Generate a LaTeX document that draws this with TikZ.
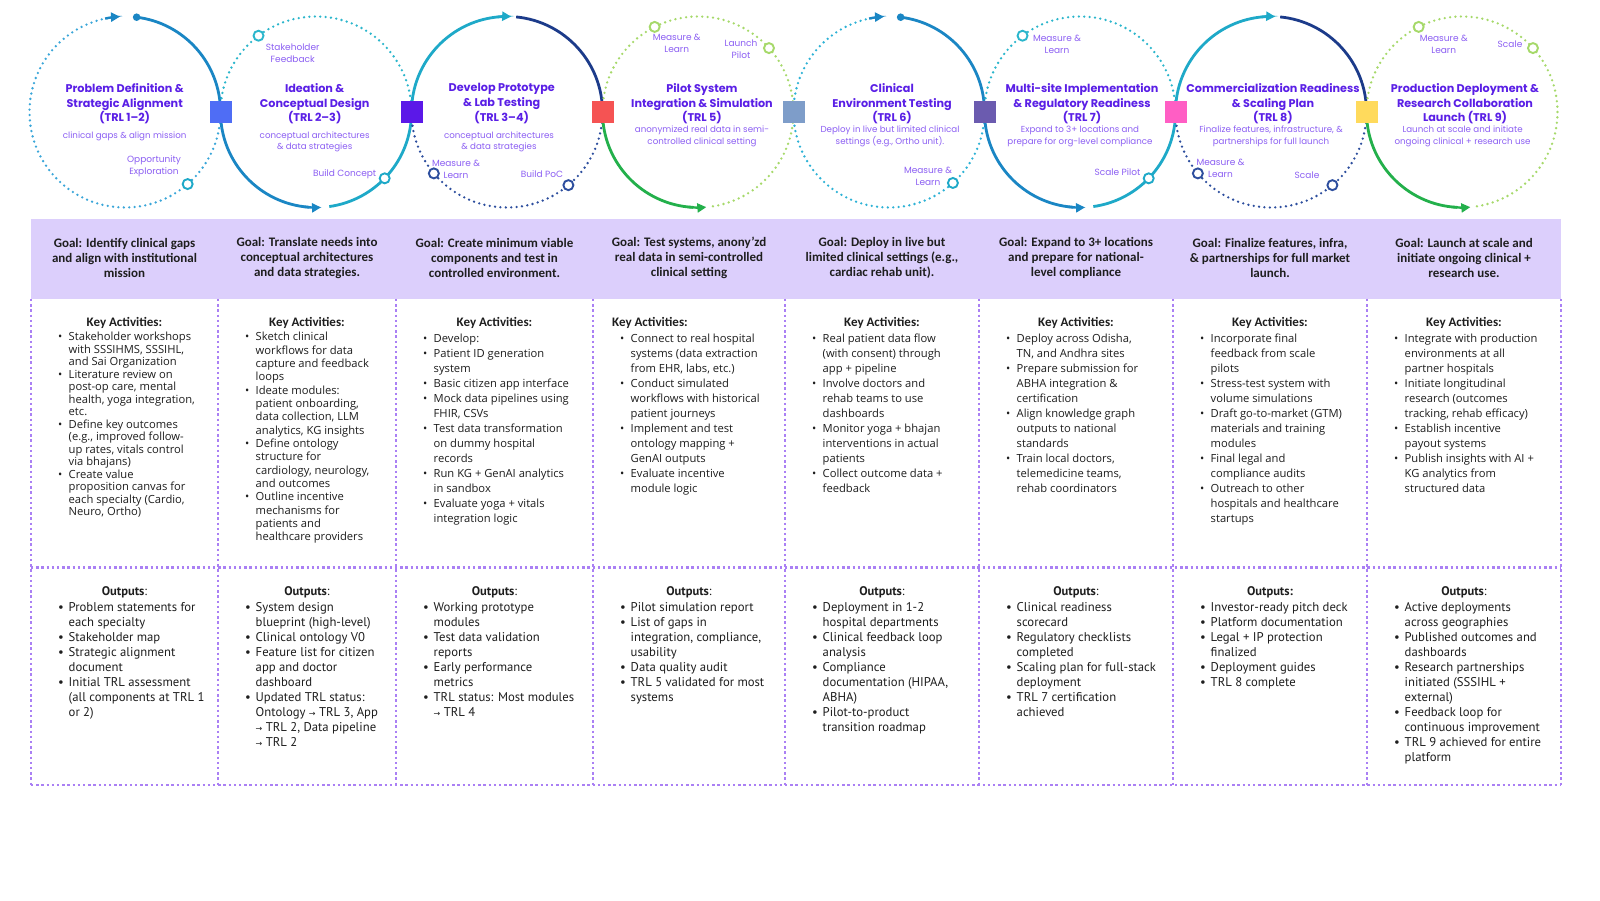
\documentclass[tikz,border=0pt]{standalone}
\usepackage{fontspec}
\setmainfont{Open Sans}
\newfontfamily\pop{Poppins}
\newfontfamily\carl{Carlito}
\newfontfamily\ptsans{PT Sans}
\newfontfamily\dejavu{DejaVu Sans}
\usetikzlibrary{arrows.meta}

\definecolor{blueS}{HTML}{1A86C4}
\definecolor{blueD}{HTML}{3AA6D9}
\definecolor{cyanD}{HTML}{2DB2D6}
\definecolor{tealS}{HTML}{1EA9C8}
\definecolor{tealD}{HTML}{2BB6CC}
\definecolor{navyS}{HTML}{1C3B8A}
\definecolor{navyD}{HTML}{2D4E9E}
\definecolor{greenS}{HTML}{23B04B}
\definecolor{greenD}{HTML}{A6D96A}
\definecolor{sqA}{HTML}{4F6DF5}
\definecolor{sqB}{HTML}{5B18E8}
\definecolor{sqC}{HTML}{F55353}
\definecolor{sqD}{HTML}{7E9DC9}
\definecolor{sqE}{HTML}{6B5BAF}
\definecolor{sqF}{HTML}{FF5EC4}
\definecolor{sqG}{HTML}{FFDA5C}
\definecolor{ttlC}{HTML}{5A1FE6}
\definecolor{subC}{HTML}{8C5FF3}
\definecolor{txtC}{HTML}{1E1E1E}
\definecolor{hdrC}{HTML}{DCCFFC}
\definecolor{gridC}{HTML}{AA80F4}

\newcommand{\Rad}{95.5}
\newcommand{\Cy}{788}
\newcommand{\bu}{\makebox[10.5pt][l]{\textbullet}}
\newcommand{\ct}{\hspace*{10.5pt}}
\newcommand{\st}{\rule{0pt}{12pt}}
\newcommand{\ar}{{\dejavu\fontsize{8}{8}\selectfont →}}

\newcommand{\circA}[4]{%
 \draw[dotarc,#3] ([shift={(0:\Rad)}]#1,\Cy) arc[start angle=0,end angle=-261,radius=\Rad];
 \draw[arrowarc,blueS] ([shift={(-258:\Rad)}]#1,\Cy) arc[start angle=-258,end angle=-267,radius=\Rad];
 \draw[solidarc,blueS] ([shift={(0:\Rad)}]#1,\Cy) arc[start angle=0,end angle=83,radius=\Rad];
 \fill[blueS] ([shift={(83:\Rad)}]#1,\Cy) circle[radius=3.8];
 \draw[ringmark,draw=#4] ([shift={(#2:\Rad)}]#1,\Cy) circle[radius=5];
}
\newcommand{\circB}[1]{%
 \draw[dotarc,tealD] ([shift={(0:\Rad)}]#1,\Cy) arc[start angle=0,end angle=180,radius=\Rad];
 \draw[solidarc,blueS] ([shift={(180:\Rad)}]#1,\Cy) arc[start angle=180,end angle=266,radius=\Rad];
 \draw[arrowarc,blueS] ([shift={(263:\Rad)}]#1,\Cy) arc[start angle=263,end angle=273,radius=\Rad];
 \draw[solidarc,tealS] ([shift={(278:\Rad)}]#1,\Cy) arc[start angle=278,end angle=360,radius=\Rad];
 \draw[ringmark,draw=tealD] ([shift={(127:\Rad)}]#1,\Cy) circle[radius=5];
 \draw[ringmark,draw=tealS] ([shift={(-44:\Rad)}]#1,\Cy) circle[radius=5];
}
\newcommand{\circC}[1]{%
 \draw[dotarc,navyD] ([shift={(0:\Rad)}]#1,\Cy) arc[start angle=0,end angle=-180,radius=\Rad];
 \draw[solidarc,tealS] ([shift={(180:\Rad)}]#1,\Cy) arc[start angle=180,end angle=93,radius=\Rad];
 \draw[arrowarc,tealS] ([shift={(96:\Rad)}]#1,\Cy) arc[start angle=96,end angle=87.5,radius=\Rad];
 \draw[solidarc,navyS] ([shift={(84.5:\Rad)}]#1,\Cy) arc[start angle=84.5,end angle=0,radius=\Rad];
 \draw[ringmark,draw=navyD] ([shift={(-50:\Rad)}]#1,\Cy) circle[radius=5];
 \draw[ringmark,draw=navyD] ([shift={(-140:\Rad)}]#1,\Cy) circle[radius=5];
}
\newcommand{\circD}[1]{%
 \draw[dotarc,greenD] ([shift={(279:\Rad)}]#1,\Cy) arc[start angle=279,end angle=540,radius=\Rad];
 \draw[solidarc,greenS] ([shift={(180:\Rad)}]#1,\Cy) arc[start angle=180,end angle=267,radius=\Rad];
 \draw[arrowarc,greenS] ([shift={(264:\Rad)}]#1,\Cy) arc[start angle=264,end angle=275,radius=\Rad];
 \draw[ringmark,draw=greenD] ([shift={(42:\Rad)}]#1,\Cy) circle[radius=5];
 \draw[ringmark,draw=greenD] ([shift={(117:\Rad)}]#1,\Cy) circle[radius=5];
}

\begin{document}
\begin{tikzpicture}[x=1pt,y=1pt,
 solidarc/.style={line width=2.8pt},
 dotarc/.style={line width=2.6pt,line cap=round,dash pattern=on 0pt off 5.4pt},
 ringmark/.style={line width=1.9pt,fill=white},
 arrowarc/.style={line width=2.4pt,-{Triangle[length=9pt,width=9pt]}},
 sqbox/.style={minimum size=22pt,inner sep=0pt},
 ttl/.style={font=\pop\bfseries\fontsize{11.2}{14.8}\selectfont,text=ttlC,align=center,inner sep=0pt},
 subtxt/.style={font=\pop\fontsize{8.7}{11.4}\selectfont,text=subC,align=center,inner sep=0pt},
 lbl/.style={font=\pop\fontsize{9}{12}\selectfont,text=subC,align=center,inner sep=0pt},
 goaltxt/.style={font=\carl\bfseries\fontsize{13}{15}\selectfont,text=txtC,align=center,inner sep=0pt},
 hdrtxt/.style={font=\carl\bfseries\fontsize{13}{15}\selectfont,text=txtC,inner sep=0pt},
 outhdr/.style={font=\ptsans\fontsize{12.5}{15}\selectfont,text=txtC,inner sep=0pt},
 acttxt/.style={font=\fontsize{11.2}{15}\selectfont,text=txtC,align=left,inner sep=0pt,anchor=north west},
 outtxt/.style={font=\ptsans\fontsize{12.7}{15}\selectfont,text=txtC,align=left,inner sep=0pt,anchor=north west},
 griddot/.style={line width=2.4pt,dash pattern=on 2.4pt off 2.8pt,draw=gridC},
]
\useasboundingbox (0,0) rectangle (1600,900);
\fill[white] (0,0) rectangle (1600,900);

% ---------- circles ----------
\circA{125}{-49}{blueD}{tealS}
\circB{316}
\circC{507}
\circD{698}
\circA{889}{-48}{cyanD}{tealS}
\circB{1080}
\circC{1271}
\circD{1462}

\node[sqbox,fill=sqA] (s1) at (220.5,\Cy) {};
\node[sqbox,fill=sqB] (s2) at (411.5,\Cy) {};
\node[sqbox,fill=sqC] (s3) at (602.5,\Cy) {};
\node[sqbox,fill=sqD] (s4) at (793.5,\Cy) {};
\node[sqbox,fill=sqE] (s5) at (984.5,\Cy) {};
\node[sqbox,fill=sqF] (s6) at (1175.5,\Cy) {};
\node[sqbox,fill=sqG] (s7) at (1366.5,\Cy) {};

% ---------- circle texts ----------
\node[ttl] (t1) at (124.7,796.3) {Problem Definition \&\\Strategic Alignment\\(TRL 1–2)};
\node[subtxt] (d1) at (124.7,764) {clinical gaps \& align mission};
\node[lbl] (l1) at (154,733.5) {Opportunity\\Exploration};

\node[ttl] (t2) at (314.7,796.3) {Ideation \&\\Conceptual Design\\(TRL 2–3)};
\node[subtxt] (d2) at (314.7,758.3) {conceptual architectures\\\& data strategies};
\node[lbl] (l2a) at (292.7,846.5) {Stakeholder\\Feedback};
\node[lbl] (l2b) at (344.7,726) {Build Concept};

\node[ttl] (t3) at (501.7,796.3) {Develop Prototype\\\& Lab Testing\\(TRL 3–4)};
\node[subtxt] (d3) at (499,758.3) {conceptual architectures\\\& data strategies};
\node[lbl] (l3a) at (456,731) {Measure \&\\Learn};
\node[lbl] (l3b) at (542,726) {Build PoC};

\node[ttl] (t4) at (702,796.3) {Pilot System\\Integration \& Simulation\\(TRL 5)};
\node[subtxt] (d4) at (702,763.8) {anonymized real data in semi-\\controlled clinical setting};
\node[lbl] (l4a) at (676.7,857) {Measure \&\\Learn};
\node[lbl] (l4b) at (741,851) {Launch\\Pilot};

\node[ttl] (t5) at (892,796.3) {Clinical\\Environment Testing\\(TRL 6)};
\node[subtxt] (d5) at (890,763.8) {Deploy in live but limited clinical\\settings (e.g., Ortho unit).};
\node[lbl] (l5a) at (928,724) {Measure \&\\Learn};

\node[ttl] (t6) at (1082,796.3) {Multi-site Implementation\\\& Regulatory Readiness\\(TRL 7)};
\node[subtxt] (d6) at (1080,763.8) {Expand to 3+ locations and\\prepare for org-level compliance};
\node[lbl] (l6a) at (1057,855.5) {Measure \&\\Learn};
\node[lbl] (l6b) at (1117.5,728) {Scale Pilot};

\node[ttl] (t7) at (1273,796.3) {Commercialization Readiness\\\& Scaling Plan\\(TRL 8)};
\node[subtxt] (d7) at (1271,763.8) {Finalize features, infrastructure, \&\\partnerships for full launch};
\node[lbl] (l7a) at (1220.5,732) {Measure \&\\Learn};
\node[lbl] (l7b) at (1307,725) {Scale};

\node[ttl] (t8) at (1465,796.3) {Production Deployment \&\\Research Collaboration\\Launch (TRL 9)};
\node[subtxt] (d8) at (1462.6,763.8) {Launch at scale and initiate\\ongoing clinical + research use};
\node[lbl] (l8a) at (1443.7,856) {Measure \&\\Learn};
\node[lbl] (l8b) at (1510,856) {Scale};

% ---------- table ----------
\fill[hdrC] (31,681) rectangle (1561,601);
\foreach \xx in {31,218,396,593,785,979,1173,1367,1561}
  \draw[griddot] (\xx,601) -- (\xx,115);
\draw[griddot] (31,332.3) -- (1561,332.3);
\draw[griddot] (31,115) -- (1561,115);

% goals
\node[goaltxt] (g1) at (124.5,642.3) {Goal: Identify clinical gaps\\and align with institutional\\mission};
\node[goaltxt] (g2) at (307,642.3) {Goal: Translate needs into\\conceptual architectures\\and data strategies.};
\node[goaltxt] (g3) at (494.5,642.3) {Goal: Create minimum viable\\components and test in\\controlled environment.};
\node[goaltxt] (g4) at (689,642.3) {Goal: Test systems, anony’zd\\real data in semi-controlled\\clinical setting};
\node[goaltxt] (g5) at (882,642.3) {Goal: Deploy in live but\\limited clinical settings (e.g.,\\cardiac rehab unit).};
\node[goaltxt] (g6) at (1076,642.3) {Goal: Expand to 3+ locations\\and prepare for national-\\level compliance};
\node[goaltxt] (g7) at (1270,642.3) {Goal: Finalize features, infra,\\\& partnerships for full market\\launch.};
\node[goaltxt] (g8) at (1464,642.3) {Goal: Launch at scale and\\initiate ongoing clinical +\\research use.};

% key activity headers
\node[hdrtxt] (h1) at (124.5,576.7) {Key Activities:};
\node[hdrtxt] (h2) at (307,576.7) {Key Activities:};
\node[hdrtxt] (h3) at (494.5,576.7) {Key Activities:};
\node[hdrtxt,anchor=west] (h4) at (612,576.7) {Key Activities:};
\node[hdrtxt] (h5) at (882,576.7) {Key Activities:};
\node[hdrtxt] (h6) at (1076,576.7) {Key Activities:};
\node[hdrtxt] (h7) at (1270,576.7) {Key Activities:};
\node[hdrtxt] (h8) at (1464,576.7) {Key Activities:};

% key activities
\node[acttxt,font=\fontsize{11.2}{12.5}\selectfont] (a1) at (58,571.4) {\st\bu Stakeholder workshops\\
\ct with SSSIHMS, SSSIHL,\\
\ct and Sai Organization\\
\bu Literature review on\\
\ct post-op care, mental\\
\ct health, yoga integration,\\
\ct etc.\\
\bu Define key outcomes\\
\ct (e.g., improved follow-\\
\ct up rates, vitals control\\
\ct via bhajans)\\
\bu Create value\\
\ct proposition canvas for\\
\ct each specialty (Cardio,\\
\ct Neuro, Ortho)};

\node[acttxt,font=\fontsize{11.2}{13.33}\selectfont] (a2) at (245,571.4) {\st\bu Sketch clinical\\
\ct workflows for data\\
\ct capture and feedback\\
\ct loops\\
\bu Ideate modules:\\
\ct patient onboarding,\\
\ct data collection, LLM\\
\ct analytics, KG insights\\
\bu Define ontology\\
\ct structure for\\
\ct cardiology, neurology,\\
\ct and outcomes\\
\bu Outline incentive\\
\ct mechanisms for\\
\ct patients and\\
\ct healthcare providers};

\node[acttxt] (a3) at (423,569.7) {\st\bu Develop:\\
\bu Patient ID generation\\
\ct system\\
\bu Basic citizen app interface\\
\bu Mock data pipelines using\\
\ct FHIR, CSVs\\
\bu Test data transformation\\
\ct on dummy hospital\\
\ct records\\
\bu Run KG + GenAI analytics\\
\ct in sandbox\\
\bu Evaluate yoga + vitals\\
\ct integration logic};

\node[acttxt] (a4) at (620,570.1) {\st\bu Connect to real hospital\\
\ct systems (data extraction\\
\ct from EHR, labs, etc.)\\
\bu Conduct simulated\\
\ct workflows with historical\\
\ct patient journeys\\
\bu Implement and test\\
\ct ontology mapping +\\
\ct GenAI outputs\\
\bu Evaluate incentive\\
\ct module logic};

\node[acttxt] (a5) at (812,570.1) {\st\bu Real patient data flow\\
\ct (with consent) through\\
\ct app + pipeline\\
\bu Involve doctors and\\
\ct rehab teams to use\\
\ct dashboards\\
\bu Monitor yoga + bhajan\\
\ct interventions in actual\\
\ct patients\\
\bu Collect outcome data +\\
\ct feedback};

\node[acttxt] (a6) at (1006,570.1) {\st\bu Deploy across Odisha,\\
\ct TN, and Andhra sites\\
\bu Prepare submission for\\
\ct ABHA integration \&\\
\ct certification\\
\bu Align knowledge graph\\
\ct outputs to national\\
\ct standards\\
\bu Train local doctors,\\
\ct telemedicine teams,\\
\ct rehab coordinators};

\node[acttxt] (a7) at (1200,570.1) {\st\bu Incorporate final\\
\ct feedback from scale\\
\ct pilots\\
\bu Stress-test system with\\
\ct volume simulations\\
\bu Draft go-to-market (GTM)\\
\ct materials and training\\
\ct modules\\
\bu Final legal and\\
\ct compliance audits\\
\bu Outreach to other\\
\ct hospitals and healthcare\\
\ct startups};

\node[acttxt] (a8) at (1394,570.1) {\st\bu Integrate with production\\
\ct environments at all\\
\ct partner hospitals\\
\bu Initiate longitudinal\\
\ct research (outcomes\\
\ct tracking, rehab efficacy)\\
\bu Establish incentive\\
\ct payout systems\\
\bu Publish insights with AI +\\
\ct KG analytics from\\
\ct structured data};

% outputs headers
\node[outhdr] (p1) at (124.5,307.3) {\textbf{Outputs}:};
\node[outhdr] (p2) at (307,307.3) {\textbf{Outputs}:};
\node[outhdr] (p3) at (494.5,307.3) {\textbf{Outputs}:};
\node[outhdr] (p4) at (689,307.3) {\textbf{Outputs}:};
\node[outhdr] (p5) at (882,307.3) {\textbf{Outputs}:};
\node[outhdr] (p6) at (1076,307.3) {\textbf{Outputs}:};
\node[outhdr] (p7) at (1270,307.3) {\textbf{Outputs:}};
\node[outhdr] (p8) at (1464,307.3) {\textbf{Outputs}:};

% outputs
\node[outtxt] (o1) at (58,300.3) {\st\bu Problem statements for\\
\ct each specialty\\
\bu Stakeholder map\\
\bu Strategic alignment\\
\ct document\\
\bu Initial TRL assessment\\
\ct (all components at TRL 1\\
\ct or 2)};

\node[outtxt] (o2) at (245,300.3) {\st\bu System design\\
\ct blueprint (high-level)\\
\bu Clinical ontology V0\\
\bu Feature list for citizen\\
\ct app and doctor\\
\ct dashboard\\
\bu Updated TRL status:\\
\ct Ontology \ar{} TRL 3, App\\
\ct \ar{} TRL 2, Data pipeline\\
\ct \ar{} TRL 2};

\node[outtxt] (o3) at (423,300.3) {\st\bu Working prototype\\
\ct modules\\
\bu Test data validation\\
\ct reports\\
\bu Early performance\\
\ct metrics\\
\bu TRL status: Most modules\\
\ct \ar{} TRL 4};

\node[outtxt] (o4) at (620,300.3) {\st\bu Pilot simulation report\\
\bu List of gaps in\\
\ct integration, compliance,\\
\ct usability\\
\bu Data quality audit\\
\bu TRL 5 validated for most\\
\ct systems};

\node[outtxt] (o5) at (812,300.3) {\st\bu Deployment in 1-2\\
\ct hospital departments\\
\bu Clinical feedback loop\\
\ct analysis\\
\bu Compliance\\
\ct documentation (HIPAA,\\
\ct ABHA)\\
\bu Pilot-to-product\\
\ct transition roadmap};

\node[outtxt] (o6) at (1006,300.3) {\st\bu Clinical readiness\\
\ct scorecard\\
\bu Regulatory checklists\\
\ct completed\\
\bu Scaling plan for full-stack\\
\ct deployment\\
\bu TRL 7 certification\\
\ct achieved};

\node[outtxt] (o7) at (1200,300.3) {\st\bu Investor-ready pitch deck\\
\bu Platform documentation\\
\bu Legal + IP protection\\
\ct finalized\\
\bu Deployment guides\\
\bu TRL 8 complete};

\node[outtxt] (o8) at (1394,300.3) {\st\bu Active deployments\\
\ct across geographies\\
\bu Published outcomes and\\
\ct dashboards\\
\bu Research partnerships\\
\ct initiated (SSSIHL +\\
\ct external)\\
\bu Feedback loop for\\
\ct continuous improvement\\
\bu TRL 9 achieved for entire\\
\ct platform};
\end{tikzpicture}
\end{document}
